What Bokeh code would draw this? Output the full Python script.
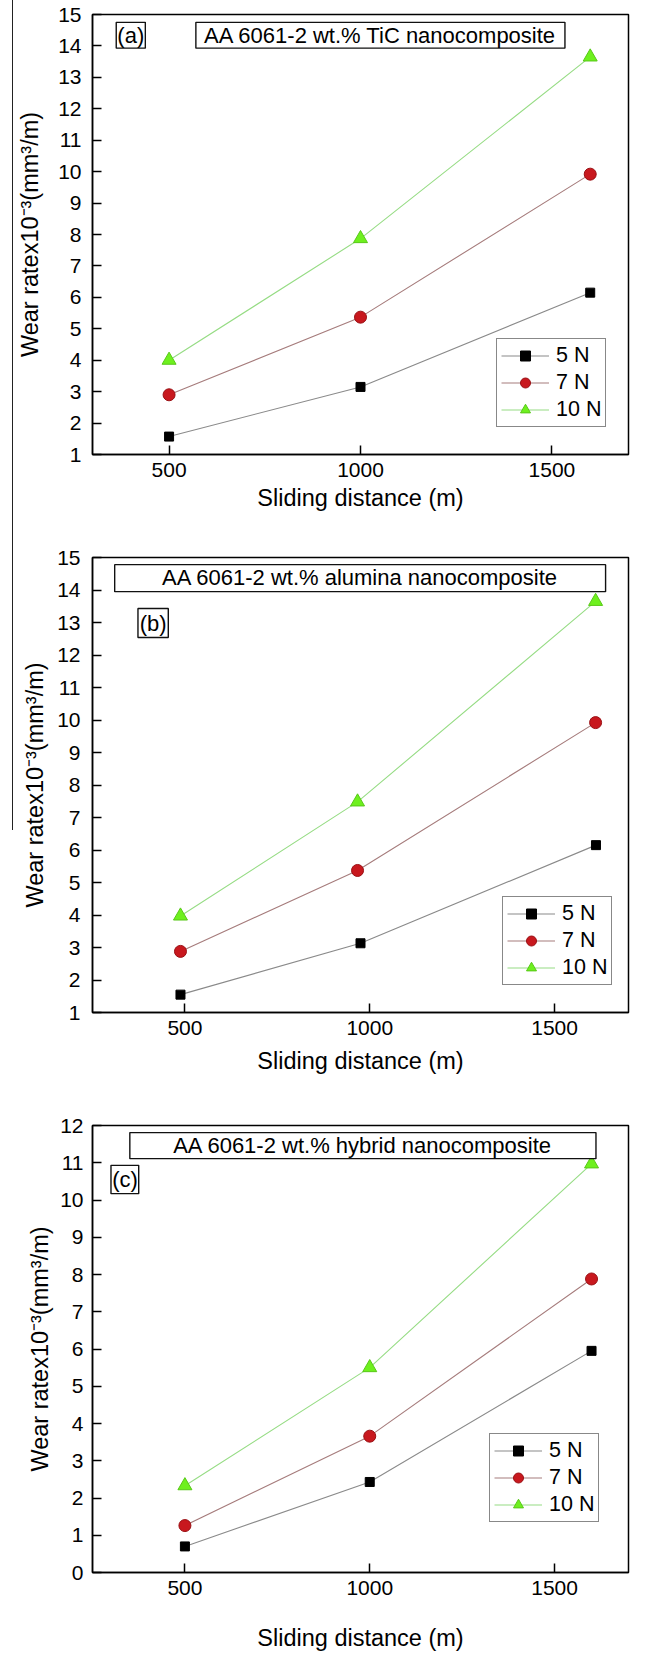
from bokeh.plotting import figure
from bokeh.models import (Legend, LegendItem, BoxAnnotation, Label, FixedTicker,
                          Range1d, Div)
from bokeh.layouts import column, row
from bokeh.embed import file_html
from bokeh.resources import INLINE

FONT = "Liberation Sans"

loads = ["5 N", "7 N", "10 N"]
distance_ticks = [500, 1000, 1500]

# (a) AA 6061-2 wt.% TiC nanocomposite
tic_x = [500, 1000, 1600]
tic_5n = [1.57, 3.15, 6.15]
tic_7n = [2.90, 5.37, 9.92]
tic_10n = [4.00, 7.87, 13.65]

# (b) AA 6061-2 wt.% alumina nanocomposite
alu_x_5n = [488, 975, 1612]
alu_x = [488, 967, 1611]
alu_5n = [1.55, 3.13, 6.15]
alu_7n = [2.88, 5.37, 9.92]
alu_10n = [3.97, 7.48, 13.65]

# (c) AA 6061-2 wt.% hybrid nanocomposite
hyb_x = [500, 1000, 1600]
hyb_5n = [0.70, 2.43, 5.95]
hyb_7n = [1.26, 3.66, 7.88]
hyb_10n = [2.33, 5.50, 10.97]

STYLES = {
    "5 N": dict(marker="square", size=9, fill="#000000", edge="#000000", line="#8a8a8a"),
    "7 N": dict(marker="circle", size=12, fill="#c8181e", edge="#9a1014", line="#a67c7c"),
    "10 N": dict(marker="triangle", size=14, fill="#6ef01e", edge="#58c818", line="#96dc84"),
}


def make_panel(series, title, tag, x_range, y_range, y_ticks, geom, boxes, legend_loc,
               ylab_standoffs, xlab_standoffs):
    w, h, left, right, top, bottom = geom
    p = figure(width=w, height=h, x_range=Range1d(*x_range), y_range=Range1d(*y_range),
               output_backend="svg", toolbar_location=None,
               min_border_left=left, min_border_right=right,
               min_border_top=top, min_border_bottom=bottom)
    p.background_fill_color = "white"
    p.border_fill_color = "white"
    p.outline_line_color = "black"
    p.outline_line_width = 1.5
    p.xgrid.visible = False
    p.ygrid.visible = False

    p.xaxis.ticker = FixedTicker(ticks=distance_ticks)
    p.yaxis.ticker = FixedTicker(ticks=y_ticks)
    for ax in (p.xaxis[0], p.yaxis[0]):
        ax.major_tick_in = 9
        ax.major_tick_out = 0
        ax.minor_tick_in = 0
        ax.minor_tick_out = 0
        ax.axis_line_color = "black"
        ax.axis_line_width = 1.5
        ax.major_tick_line_color = "black"
        ax.major_tick_line_width = 1.5
        ax.major_label_text_font = FONT
        ax.major_label_text_font_size = "21px"
        ax.major_label_text_color = "black"
        ax.axis_label_text_font = FONT
        ax.axis_label_text_font_size = "23.5px"
        ax.axis_label_text_font_style = "normal"
        ax.axis_label_text_color = "black"
    p.xaxis.axis_label = "Sliding distance (m)"
    p.yaxis.axis_label = "Wear ratex10\u207b\u00b3(mm\u00b3/m)"
    p.yaxis.major_label_standoff = ylab_standoffs[0]
    p.yaxis.axis_label_standoff = ylab_standoffs[1]
    p.xaxis.major_label_standoff = xlab_standoffs[0]
    p.xaxis.axis_label_standoff = xlab_standoffs[1]

    items = []
    for name, (xs, ys) in zip(loads, series):
        st = STYLES[name]
        ln = p.line(xs, ys, line_color=st["line"], line_width=1.1)
        mk = p.scatter(xs, ys, marker=st["marker"], size=st["size"],
                       fill_color=st["fill"], line_color=st["edge"], line_width=1)
        items.append(LegendItem(label=name, renderers=[ln, mk]))

    legend = Legend(items=items, location=legend_loc,
                    label_text_font=FONT, label_text_font_size="21.5px",
                    label_text_color="black", label_standoff=7,
                    glyph_width=48, glyph_height=25, label_height=25,
                    spacing=2, padding=4, margin=0,
                    border_line_color="#111111", border_line_width=1.5,
                    background_fill_color="white", background_fill_alpha=1)
    p.add_layout(legend)

    (tl, tr, tb, tt, tx, ty), (gl, gr, gb, gt, gx, gy) = boxes
    for (bl, br, bb, bt, lx, ly, txt) in ((tl, tr, tb, tt, tx, ty, title),
                                          (gl, gr, gb, gt, gx, gy, tag)):
        p.add_layout(BoxAnnotation(left=bl, right=br, bottom=bb, top=bt,
                                   fill_color="white", fill_alpha=1,
                                   line_color="#111111", line_alpha=1, line_width=1.4))
        p.add_layout(Label(x=lx, y=ly, text=txt, text_align="center",
                           text_baseline="middle", text_font=FONT,
                           text_font_size="22px", text_color="black"))
    return p


fa = make_panel(
    [(tic_x, tic_5n), (tic_x, tic_7n), (tic_x, tic_10n)],
    "AA 6061-2 wt.% TiC nanocomposite", "(a)",
    (300, 1700), (1, 15), list(range(1, 16)),
    (637, 540, 79, 19, 14, 86),
    ((570, 1534, 13.93, 14.75, 1052, 14.34), (362, 438, 13.93, 14.75, 400, 14.34)),
    (404, 27), (11, 12), (8, 5))

fb = make_panel(
    [(alu_x_5n, alu_5n), (alu_x, alu_7n), (alu_x, alu_10n)],
    "AA 6061-2 wt.% alumina nanocomposite", "(b)",
    (250, 1700), (1, 15), list(range(1, 16)),
    (637, 555, 71, 6, 17, 83),
    ((310, 1638, 13.95, 14.78, 974, 14.37), (373, 455, 12.54, 13.43, 414, 12.98)),
    (410, 27), (12, 6), (8, 10))

fc = make_panel(
    [(hyb_x, hyb_5n), (hyb_x, hyb_7n), (hyb_x, hyb_10n)],
    "AA 6061-2 wt.% hybrid nanocomposite", "(c)",
    (250, 1700), (0, 12), list(range(0, 13)),
    (637, 559, 69, 22, 30, 82),
    ((351, 1612, 11.11, 11.81, 981, 11.46), (300, 375, 10.17, 10.93, 338, 10.55)),
    (397, 50), (9, 4), (8, 27))

rule = Div(text="", width=13, height=830, margin=0,
           styles={"border-right": "1px solid #222222"})

page = row(rule, column(fa, fb, fc, spacing=0), spacing=0)

open("out.html", "w").write(file_html(page, INLINE))
